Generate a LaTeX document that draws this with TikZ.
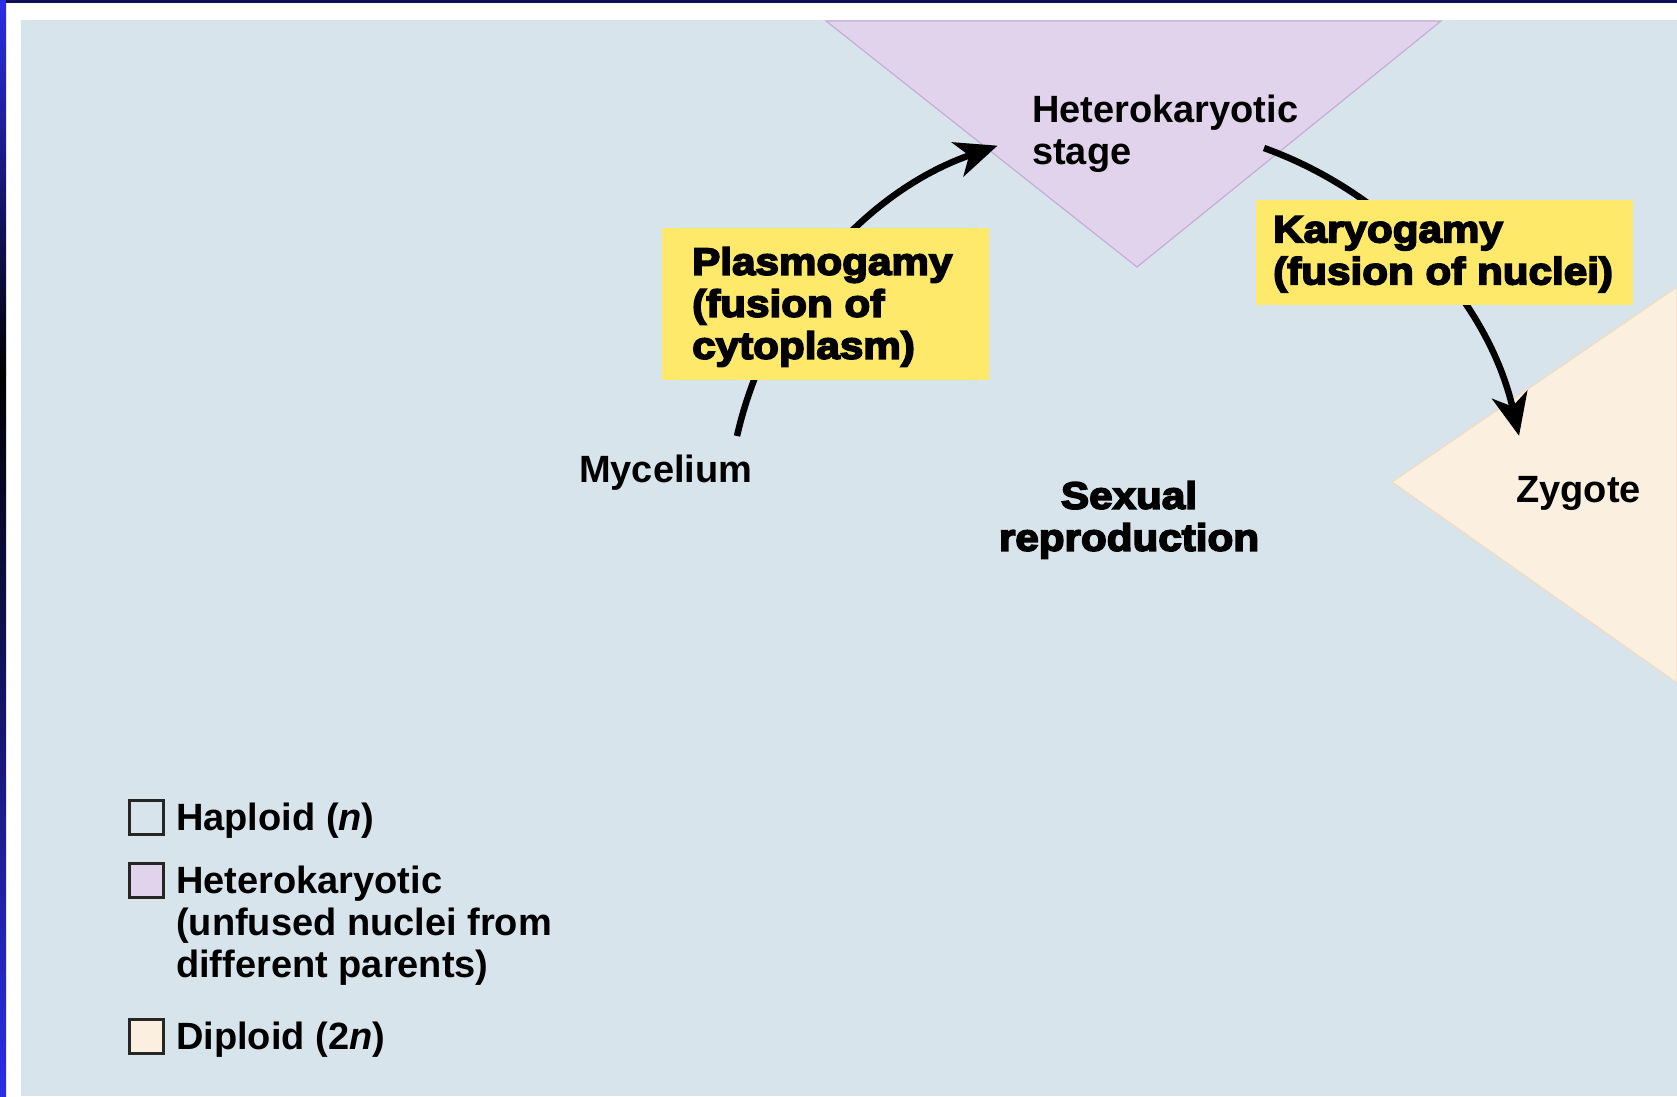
\documentclass[tikz,border=0pt]{standalone}
\usepackage{fontspec}
\setmainfont{Liberation Sans}
\newfontfamily\heavyfont{Liberation Sans Bold}[FakeBold=4.5,FakeStretch=1.11]
\usetikzlibrary{arrows.meta}
\definecolor{panel}{HTML}{D8E4EC}
\definecolor{purp}{HTML}{E1D3EB}
\definecolor{purpedge}{HTML}{C4AED6}
\definecolor{cream}{HTML}{FBF0E0}
\definecolor{creamedge}{HTML}{F0DCC0}
\definecolor{yel}{HTML}{FFE96B}
\definecolor{navy}{HTML}{10105A}
\definecolor{stripblue}{HTML}{2D2DE6}
\begin{document}
\begin{tikzpicture}[x=1pt,y=-1pt,
  lbl/.style={inner sep=0pt, font=\fontsize{38}{42}\selectfont\bfseries, align=left},
  hvy/.style={inner sep=0pt, font=\fontsize{38}{42}\selectfont\heavyfont, align=left},
  cyc/.style={line width=6.5pt, -{Stealth[length=42pt,width=36pt,inset=12pt]}},
  legbox/.style={draw=black!85, line width=2.5pt}]
\useasboundingbox (0,0) rectangle (1677,1096);
% frame
\fill[white] (0,0) rectangle (1677,1096);
\shade[top color=stripblue, bottom color=black] (0,0) rectangle (6,375);
\shade[top color=black, bottom color=stripblue] (0,375) rectangle (6,1096);
\fill[navy] (6,0) rectangle (1677,3);
\fill[panel] (21,20) rectangle (1677,1096);
% stage triangles
\filldraw[fill=purp, draw=purpedge, line width=1.2pt] (826,21) -- (1441,21) -- (1137,267) -- cycle;
\filldraw[fill=cream, draw=creamedge, line width=1.2pt] (1392,482) -- (1677,287) -- (1677,683) -- cycle;
% connectors (arcs of the cycle)
\coordinate (a1s) at (737,436);
\coordinate (a2s) at (1264,148);
\draw[cyc] (a1s) arc[start angle=192.8, end angle=251.0, radius=401];
\draw[cyc] (a2s) arc[start angle=289.8, end angle=347.1, radius=401];
% yellow boxes
\fill[yel] (662,228) rectangle (989,380);
\fill[yel] (1256,200) rectangle (1633,305);
% labels
\node[lbl, anchor=north west] (het) at (1032,95) {Heterokaryotic\\stage};
\node[hvy, anchor=north west] (plas) at (692,247) {Plasmogamy\\(fusion of\\cytoplasm)};
\node[hvy, anchor=north west] (kary) at (1273,216) {Karyogamy\\(fusion of nuclei)};
\node[hvy, anchor=north, align=center] (sex) at (1129,481) {Sexual\\reproduction};
\node[lbl, anchor=base west] (myc) at (579,482) {Mycelium};
\node[lbl, anchor=base west] (zyg) at (1516,502) {Zygote};
% legend
\node[legbox, fill=panel, minimum size=34pt, inner sep=0pt, anchor=north west] (k1) at (128,799) {};
\node[legbox, fill=purp, minimum size=34pt, inner sep=0pt, anchor=north west] (k2) at (128,862) {};
\node[legbox, fill=cream, minimum size=34pt, inner sep=0pt, anchor=north west] (k3) at (128,1018) {};
\node[lbl, anchor=base west] (l1) at (176,830) {Haploid (\textit{n})};
\node[lbl, anchor=north west] (l2) at (176,866) {Heterokaryotic\\(unfused nuclei from\\different parents)};
\node[lbl, anchor=base west] (l3) at (176,1049) {Diploid (2\textit{n})};
\end{tikzpicture}
\end{document}
